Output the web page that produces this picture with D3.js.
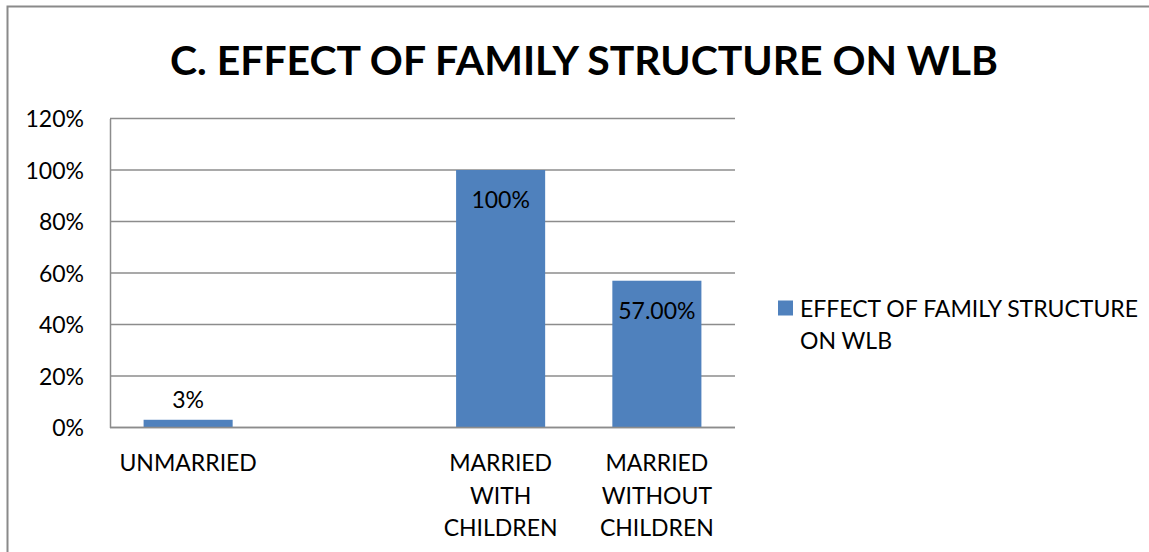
<!DOCTYPE html>
<html>
<head>
<meta charset="utf-8">
<script src="https://cdn.jsdelivr.net/npm/d3@7"></script>
<style>
  body { margin: 0; background: #fff; }
  text { font-family: Lato, "Open Sans", sans-serif; fill: #000; }
</style>
</head>
<body>
<script>
// data
var categories = ["UNMARRIED", " ", "MARRIED WITH CHILDREN", "MARRIED WITHOUT CHILDREN"];
var labelLines = [["UNMARRIED"], [""], ["MARRIED", "WITH", "CHILDREN"], ["MARRIED", "WITHOUT", "CHILDREN"]];
var values = [0.03, null, 1.00, 0.57];
var valueLabels = ["3%", "", "100%", "57.00%"];
var yTicks = [0, 0.2, 0.4, 0.6, 0.8, 1.0, 1.2];
var seriesName = ["EFFECT OF FAMILY STRUCTURE", "ON WLB"];
var title = "C. EFFECT OF FAMILY STRUCTURE ON WLB";

var W = 1149, H = 552;
var plot = { left: 110, right: 735, top: 118.5, bottom: 427.5 };
var barColor = "#4f81bd";
var gridColor = "#8c8c8c";
var fs = "23px";

var svg = d3.select("body").append("svg")
  .attr("width", W).attr("height", H);

// outer chart border
svg.append("rect")
  .attr("x", 7.5).attr("y", 6.5)
  .attr("width", W + 20).attr("height", H + 20)
  .attr("fill", "none").attr("stroke", "#8a8a8a").attr("stroke-width", 2);

var x = d3.scaleBand().domain(categories).range([plot.left, plot.right]).padding(0);
var y = d3.scaleLinear().domain([0, 1.2]).range([plot.bottom, plot.top]);
var barW = x.bandwidth() * 0.57;

// title
svg.append("text")
  .attr("x", 584).attr("y", 75)
  .attr("text-anchor", "middle")
  .style("font-weight", "bold").style("font-size", "40px")
  .attr("textLength", 828).attr("lengthAdjust", "spacingAndGlyphs")
  .text(title);

// gridlines
svg.append("g").selectAll("line").data(yTicks).join("line")
  .attr("x1", plot.left).attr("x2", plot.right)
  .attr("y1", d => y(d)).attr("y2", d => y(d))
  .attr("stroke", gridColor).attr("stroke-width", 1.5);

// y axis
var yAxis = d3.axisLeft(y).tickValues(yTicks).tickSize(0).tickPadding(26)
  .tickFormat(d3.format(".0%"));
var yg = svg.append("g").attr("transform", "translate(" + plot.left + ",0)").call(yAxis);
yg.select(".domain").attr("stroke", gridColor).attr("stroke-width", 1.5);
yg.selectAll("text").style("font-size", fs).style("font-family", "Lato, sans-serif")
  .attr("fill", "#000").attr("dy", "0.36em");

// bars
var data = categories.map((c, i) => ({ cat: c, v: values[i], label: valueLabels[i], lines: labelLines[i] }));
svg.append("g").selectAll("rect").data(data.filter(d => d.v != null)).join("rect")
  .attr("x", d => x(d.cat) + (x.bandwidth() - barW) / 2)
  .attr("width", barW)
  .attr("y", d => y(d.v))
  .attr("height", d => y(0) - y(d.v))
  .attr("fill", barColor);

// redraw baseline over bars
svg.append("line")
  .attr("x1", plot.left).attr("x2", plot.right)
  .attr("y1", y(0)).attr("y2", y(0))
  .attr("stroke", gridColor).attr("stroke-width", 1.5);

// value labels
svg.append("g").selectAll("text").data(data.filter(d => d.v != null)).join("text")
  .attr("x", d => x(d.cat) + x.bandwidth() / 2)
  .attr("y", d => d.v > 0.2 ? y(d.v) + 38 : y(d.v) - 12)
  .attr("text-anchor", "middle")
  .style("font-size", fs)
  .text(d => d.label);

// category labels
var cl = svg.append("g").selectAll("text").data(data).join("text")
  .attr("x", d => x(d.cat) + x.bandwidth() / 2)
  .attr("y", 471)
  .attr("text-anchor", "middle")
  .style("font-size", fs);
cl.selectAll("tspan").data(d => d.lines.map(l => ({ l: l, cx: x(d.cat) + x.bandwidth() / 2 }))).join("tspan")
  .attr("x", d => d.cx)
  .attr("dy", (d, i) => i === 0 ? 0 : 32.5)
  .text(d => d.l);

// legend
svg.append("rect")
  .attr("x", 778).attr("y", 300.5).attr("width", 15).attr("height", 15)
  .attr("fill", barColor);
svg.append("g").selectAll("text").data(seriesName).join("text")
  .attr("x", 800)
  .attr("y", (d, i) => 317 + i * 31.5)
  .style("font-size", fs)
  .text(d => d);
</script>
</body>
</html>
